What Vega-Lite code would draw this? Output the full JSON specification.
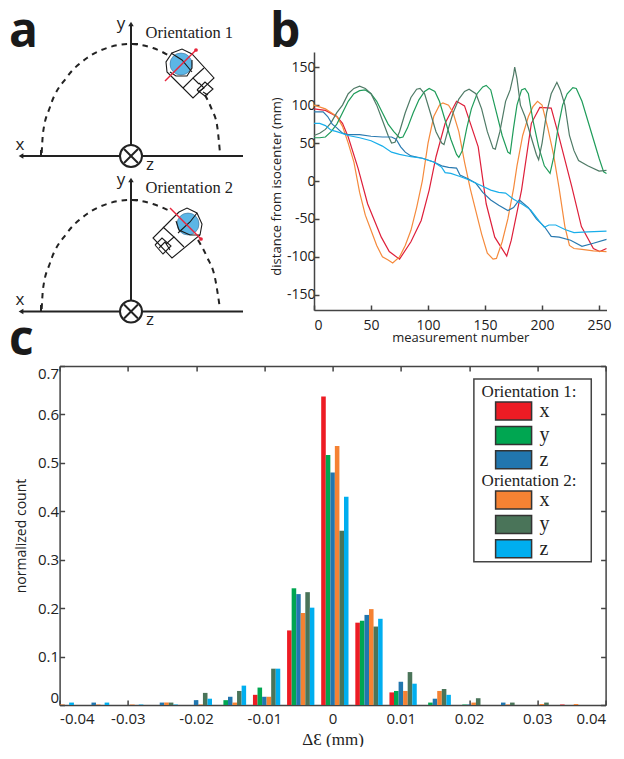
{
"$schema":"https://vega.github.io/schema/vega-lite/v6.json",
"padding":0,
"background":"white",
"spacing":-27,
"config":{"view":{"stroke":null},"axis":{"grid":false,"labelFont":"Open Sans","titleFont":"Open Sans","labelFontSize":14,"titleFontSize":13.5,"titleFontWeight":"normal","labelColor":"#222","titleColor":"#222","domainColor":"#444","tickColor":"#444","domainWidth":1.5,"tickWidth":1.5}},
"datasets":{
"hist":[
{"lo":-0.0386,"hi":-0.0379,"o":"2","a":"z","v":0.005,"p":6},{"lo":-0.04,"hi":-0.0393,"o":"2","a":"x","v":0.001,"p":4},
{"lo":-0.03533,"hi":-0.03467,"o":"1","a":"z","v":0.005,"p":3},{"lo":-0.0334,"hi":-0.03273,"o":"2","a":"z","v":0.005,"p":6},{"lo":-0.0347,"hi":-0.034,"o":"2","a":"x","v":0.001,"p":4},
{"lo":-0.0297,"hi":-0.029,"o":"2","a":"x","v":0.001,"p":4},{"lo":-0.0284,"hi":-0.02773,"o":"2","a":"z","v":0.001,"p":6},
{"lo":-0.02533,"hi":-0.02467,"o":"1","a":"z","v":0.005,"p":3},{"lo":-0.02467,"hi":-0.024,"o":"2","a":"x","v":0.005,"p":4},{"lo":-0.024,"hi":-0.02333,"o":"2","a":"y","v":0.005,"p":5},{"lo":-0.02333,"hi":-0.02267,"o":"2","a":"z","v":0.001,"p":6},
{"lo":-0.02033,"hi":-0.01967,"o":"1","a":"z","v":0.01,"p":3},{"lo":-0.01967,"hi":-0.019,"o":"2","a":"x","v":0.001,"p":4},{"lo":-0.019,"hi":-0.01833,"o":"2","a":"y","v":0.025,"p":5},{"lo":-0.01833,"hi":-0.01767,"o":"2","a":"z","v":0.013,"p":6},
{"lo":-0.016,"hi":-0.01533,"o":"1","a":"y","v":0.01,"p":2},{"lo":-0.01533,"hi":-0.01467,"o":"1","a":"z","v":0.017,"p":3},{"lo":-0.01467,"hi":-0.014,"o":"2","a":"x","v":0.005,"p":4},{"lo":-0.014,"hi":-0.01333,"o":"2","a":"y","v":0.029,"p":5},{"lo":-0.01333,"hi":-0.01267,"o":"2","a":"z","v":0.04,"p":6},
{"lo":-0.01167,"hi":-0.011,"o":"1","a":"x","v":0.021,"p":1},{"lo":-0.011,"hi":-0.01033,"o":"1","a":"y","v":0.036,"p":2},{"lo":-0.01033,"hi":-0.00967,"o":"1","a":"z","v":0.017,"p":3},{"lo":-0.00967,"hi":-0.009,"o":"2","a":"x","v":0.017,"p":4},{"lo":-0.009,"hi":-0.00833,"o":"2","a":"y","v":0.075,"p":5},{"lo":-0.00833,"hi":-0.00767,"o":"2","a":"z","v":0.075,"p":6},
{"lo":-0.00667,"hi":-0.006,"o":"1","a":"x","v":0.154,"p":1},{"lo":-0.006,"hi":-0.00533,"o":"1","a":"y","v":0.241,"p":2},{"lo":-0.00533,"hi":-0.00467,"o":"1","a":"z","v":0.229,"p":3},{"lo":-0.00467,"hi":-0.004,"o":"2","a":"x","v":0.19,"p":4},{"lo":-0.004,"hi":-0.00333,"o":"2","a":"y","v":0.233,"p":5},{"lo":-0.00333,"hi":-0.00267,"o":"2","a":"z","v":0.201,"p":6},
{"lo":-0.00167,"hi":-0.001,"o":"1","a":"x","v":0.637,"p":1},{"lo":-0.001,"hi":-0.00033,"o":"1","a":"y","v":0.516,"p":2},{"lo":-0.00033,"hi":0.00033,"o":"1","a":"z","v":0.48,"p":3},{"lo":0.00033,"hi":0.001,"o":"2","a":"x","v":0.535,"p":4},{"lo":0.001,"hi":0.00167,"o":"2","a":"y","v":0.36,"p":5},{"lo":0.00167,"hi":0.00233,"o":"2","a":"z","v":0.43,"p":6},
{"lo":0.00333,"hi":0.004,"o":"1","a":"x","v":0.17,"p":1},{"lo":0.004,"hi":0.00467,"o":"1","a":"y","v":0.174,"p":2},{"lo":0.00467,"hi":0.00533,"o":"1","a":"z","v":0.186,"p":3},{"lo":0.00533,"hi":0.006,"o":"2","a":"x","v":0.198,"p":4},{"lo":0.006,"hi":0.00667,"o":"2","a":"y","v":0.162,"p":5},{"lo":0.00667,"hi":0.00733,"o":"2","a":"z","v":0.178,"p":6},
{"lo":0.00833,"hi":0.009,"o":"1","a":"x","v":0.026,"p":1},{"lo":0.009,"hi":0.00967,"o":"1","a":"y","v":0.029,"p":2},{"lo":0.00967,"hi":0.01033,"o":"1","a":"z","v":0.048,"p":3},{"lo":0.01033,"hi":0.011,"o":"2","a":"x","v":0.029,"p":4},{"lo":0.011,"hi":0.01167,"o":"2","a":"y","v":0.068,"p":5},{"lo":0.01167,"hi":0.01233,"o":"2","a":"z","v":0.044,"p":6},
{"lo":0.014,"hi":0.01467,"o":"1","a":"y","v":0.005,"p":2},{"lo":0.01467,"hi":0.01533,"o":"1","a":"z","v":0.013,"p":3},{"lo":0.01533,"hi":0.016,"o":"2","a":"x","v":0.029,"p":4},{"lo":0.016,"hi":0.01667,"o":"2","a":"y","v":0.033,"p":5},{"lo":0.01667,"hi":0.01733,"o":"2","a":"z","v":0.021,"p":6},
{"lo":0.019,"hi":0.01967,"o":"1","a":"y","v":0.001,"p":2},{"lo":0.01967,"hi":0.02033,"o":"1","a":"z","v":0.001,"p":3},{"lo":0.02033,"hi":0.021,"o":"2","a":"x","v":0.005,"p":4},{"lo":0.021,"hi":0.02167,"o":"2","a":"y","v":0.014,"p":5},
{"lo":0.02467,"hi":0.02533,"o":"1","a":"z","v":0.005,"p":3},{"lo":0.02533,"hi":0.026,"o":"2","a":"x","v":0.001,"p":4},{"lo":0.026,"hi":0.02667,"o":"2","a":"y","v":0.005,"p":5},
{"lo":0.03033,"hi":0.031,"o":"2","a":"x","v":0.002,"p":4},{"lo":0.031,"hi":0.03167,"o":"2","a":"y","v":0.005,"p":5},
{"lo":0.03333,"hi":0.034,"o":"1","a":"x","v":0.001,"p":1},{"lo":0.03533,"hi":0.036,"o":"2","a":"x","v":0.002,"p":4}
],
"traces":[
{"s":"1x","n":0,"d":95},{"s":"1x","n":10,"d":93},{"s":"1x","n":20,"d":85},{"s":"1x","n":25,"d":76},{"s":"1x","n":30,"d":58},{"s":"1x","n":38.6,"d":17},{"s":"1x","n":47,"d":-30},{"s":"1x","n":59,"d":-74},{"s":"1x","n":66,"d":-93},{"s":"1x","n":75,"d":-103},{"s":"1x","n":85,"d":-80},{"s":"1x","n":94,"d":-52},{"s":"1x","n":101,"d":-12},{"s":"1x","n":107,"d":32},{"s":"1x","n":115,"d":76},{"s":"1x","n":125,"d":105},{"s":"1x","n":132,"d":99},{"s":"1x","n":144,"d":45},{"s":"1x","n":151,"d":-30},{"s":"1x","n":158.5,"d":-74},{"s":"1x","n":169,"d":-99},{"s":"1x","n":173,"d":-78},{"s":"1x","n":182,"d":-12},{"s":"1x","n":190.6,"d":76},{"s":"1x","n":198,"d":97},{"s":"1x","n":208,"d":96},{"s":"1x","n":214,"d":63},{"s":"1x","n":226,"d":-7},{"s":"1x","n":234.5,"d":-60},{"s":"1x","n":245,"d":-89},{"s":"1x","n":250.6,"d":-93},{"s":"1x","n":256.5,"d":-89},
{"s":"2x","n":0,"d":100},{"s":"2x","n":10,"d":95},{"s":"2x","n":20,"d":85},{"s":"2x","n":25,"d":72},{"s":"2x","n":30,"d":50},{"s":"2x","n":35,"d":25},{"s":"2x","n":40,"d":-15},{"s":"2x","n":45,"d":-45},{"s":"2x","n":50,"d":-65},{"s":"2x","n":55,"d":-85},{"s":"2x","n":60,"d":-100},{"s":"2x","n":65,"d":-104},{"s":"2x","n":69,"d":-108},{"s":"2x","n":75,"d":-100},{"s":"2x","n":80,"d":-85},{"s":"2x","n":85,"d":-65},{"s":"2x","n":90,"d":-35},{"s":"2x","n":95,"d":0},{"s":"2x","n":100,"d":50},{"s":"2x","n":105,"d":85},{"s":"2x","n":110,"d":100},{"s":"2x","n":113,"d":103},{"s":"2x","n":118,"d":100},{"s":"2x","n":122,"d":90},{"s":"2x","n":127,"d":65},{"s":"2x","n":132,"d":25},{"s":"2x","n":137,"d":-10},{"s":"2x","n":142,"d":-40},{"s":"2x","n":147,"d":-70},{"s":"2x","n":152,"d":-95},{"s":"2x","n":157,"d":-103},{"s":"2x","n":160,"d":-102},{"s":"2x","n":165,"d":-80},{"s":"2x","n":170,"d":-50},{"s":"2x","n":175,"d":-10},{"s":"2x","n":178,"d":20},{"s":"2x","n":183,"d":60},{"s":"2x","n":188,"d":85},{"s":"2x","n":192,"d":98},{"s":"2x","n":196,"d":105},{"s":"2x","n":200,"d":100},{"s":"2x","n":205,"d":70},{"s":"2x","n":210,"d":35},{"s":"2x","n":215,"d":-10},{"s":"2x","n":220,"d":-60},{"s":"2x","n":224,"d":-85},{"s":"2x","n":228,"d":-89},{"s":"2x","n":235,"d":-90},{"s":"2x","n":245,"d":-92},{"s":"2x","n":256.5,"d":-93},
{"s":"1y","n":0,"d":57},{"s":"1y","n":5,"d":57},{"s":"1y","n":10,"d":58},{"s":"1y","n":15,"d":65},{"s":"1y","n":20,"d":75},{"s":"1y","n":25,"d":90},{"s":"1y","n":30,"d":105},{"s":"1y","n":35,"d":115},{"s":"1y","n":40,"d":119},{"s":"1y","n":45,"d":120},{"s":"1y","n":50,"d":115},{"s":"1y","n":55,"d":105},{"s":"1y","n":60,"d":90},{"s":"1y","n":65,"d":75},{"s":"1y","n":70,"d":65},{"s":"1y","n":75,"d":57},{"s":"1y","n":78,"d":58},{"s":"1y","n":82,"d":70},{"s":"1y","n":87,"d":90},{"s":"1y","n":92,"d":107},{"s":"1y","n":97,"d":118},{"s":"1y","n":101,"d":122},{"s":"1y","n":106,"d":118},{"s":"1y","n":110,"d":105},{"s":"1y","n":115,"d":80},{"s":"1y","n":120,"d":55},{"s":"1y","n":125,"d":35},{"s":"1y","n":127,"d":31},{"s":"1y","n":130,"d":40},{"s":"1y","n":134,"d":70},{"s":"1y","n":138,"d":95},{"s":"1y","n":143,"d":115},{"s":"1y","n":148,"d":124},{"s":"1y","n":151,"d":126},{"s":"1y","n":155,"d":120},{"s":"1y","n":160,"d":90},{"s":"1y","n":165,"d":60},{"s":"1y","n":170,"d":38},{"s":"1y","n":172,"d":36},{"s":"1y","n":175,"d":70},{"s":"1y","n":178,"d":100},{"s":"1y","n":182,"d":120},{"s":"1y","n":185,"d":122},{"s":"1y","n":188,"d":115},{"s":"1y","n":192,"d":80},{"s":"1y","n":197,"d":45},{"s":"1y","n":202,"d":20},{"s":"1y","n":207,"d":10},{"s":"1y","n":210,"d":30},{"s":"1y","n":214,"d":70},{"s":"1y","n":218,"d":100},{"s":"1y","n":222,"d":115},{"s":"1y","n":227,"d":123},{"s":"1y","n":230,"d":122},{"s":"1y","n":235,"d":105},{"s":"1y","n":240,"d":80},{"s":"1y","n":245,"d":55},{"s":"1y","n":250,"d":30},{"s":"1y","n":254,"d":12},{"s":"1y","n":256.5,"d":10},
{"s":"2y","n":0,"d":60},{"s":"2y","n":5,"d":63},{"s":"2y","n":10,"d":68},{"s":"2y","n":15,"d":77},{"s":"2y","n":20,"d":90},{"s":"2y","n":25,"d":100},{"s":"2y","n":30,"d":115},{"s":"2y","n":35,"d":122},{"s":"2y","n":40,"d":125},{"s":"2y","n":45,"d":122},{"s":"2y","n":50,"d":115},{"s":"2y","n":55,"d":100},{"s":"2y","n":60,"d":80},{"s":"2y","n":65,"d":60},{"s":"2y","n":68,"d":50},{"s":"2y","n":71,"d":51},{"s":"2y","n":75,"d":65},{"s":"2y","n":80,"d":90},{"s":"2y","n":85,"d":110},{"s":"2y","n":90,"d":121},{"s":"2y","n":93,"d":122},{"s":"2y","n":97,"d":115},{"s":"2y","n":102,"d":90},{"s":"2y","n":107,"d":65},{"s":"2y","n":112,"d":50},{"s":"2y","n":114,"d":48},{"s":"2y","n":118,"d":70},{"s":"2y","n":122,"d":90},{"s":"2y","n":127,"d":108},{"s":"2y","n":132,"d":118},{"s":"2y","n":136,"d":121},{"s":"2y","n":142,"d":115},{"s":"2y","n":147,"d":95},{"s":"2y","n":152,"d":65},{"s":"2y","n":157,"d":43},{"s":"2y","n":159,"d":42},{"s":"2y","n":163,"d":65},{"s":"2y","n":168,"d":105},{"s":"2y","n":172,"d":120},{"s":"2y","n":175,"d":140},{"s":"2y","n":176,"d":150},{"s":"2y","n":178,"d":135},{"s":"2y","n":181,"d":100},{"s":"2y","n":185,"d":85},{"s":"2y","n":190,"d":60},{"s":"2y","n":195,"d":35},{"s":"2y","n":197,"d":28},{"s":"2y","n":200,"d":50},{"s":"2y","n":204,"d":90},{"s":"2y","n":208,"d":115},{"s":"2y","n":213,"d":130},{"s":"2y","n":216,"d":120},{"s":"2y","n":220,"d":100},{"s":"2y","n":224,"d":60},{"s":"2y","n":228,"d":40},{"s":"2y","n":232,"d":27},{"s":"2y","n":240,"d":20},{"s":"2y","n":250,"d":13},{"s":"2y","n":256.5,"d":14},
{"s":"1z","n":0,"d":91},{"s":"1z","n":8,"d":91},{"s":"1z","n":12,"d":85},{"s":"1z","n":16,"d":75},{"s":"1z","n":20,"d":70},{"s":"1z","n":25,"d":63},{"s":"1z","n":30,"d":61},{"s":"1z","n":40,"d":61},{"s":"1z","n":50,"d":59},{"s":"1z","n":60,"d":58},{"s":"1z","n":68,"d":58},{"s":"1z","n":72,"d":55},{"s":"1z","n":76,"d":45},{"s":"1z","n":80,"d":38},{"s":"1z","n":85,"d":33},{"s":"1z","n":95,"d":30},{"s":"1z","n":105,"d":25},{"s":"1z","n":112,"d":20},{"s":"1z","n":118,"d":18},{"s":"1z","n":125,"d":17},{"s":"1z","n":128,"d":8},{"s":"1z","n":135,"d":3},{"s":"1z","n":142,"d":-3},{"s":"1z","n":148,"d":-15},{"s":"1z","n":155,"d":-25},{"s":"1z","n":162,"d":-32},{"s":"1z","n":170,"d":-39},{"s":"1z","n":175,"d":-35},{"s":"1z","n":180,"d":-25},{"s":"1z","n":188,"d":-35},{"s":"1z","n":195,"d":-50},{"s":"1z","n":202,"d":-60},{"s":"1z","n":208,"d":-73},{"s":"1z","n":215,"d":-74},{"s":"1z","n":225,"d":-78},{"s":"1z","n":235,"d":-86},{"s":"1z","n":245,"d":-82},{"s":"1z","n":256.5,"d":-77},
{"s":"2z","n":0,"d":76},{"s":"2z","n":5,"d":76},{"s":"2z","n":10,"d":73},{"s":"2z","n":15,"d":67},{"s":"2z","n":20,"d":65},{"s":"2z","n":30,"d":60},{"s":"2z","n":40,"d":57},{"s":"2z","n":50,"d":53},{"s":"2z","n":60,"d":46},{"s":"2z","n":68,"d":38},{"s":"2z","n":75,"d":35},{"s":"2z","n":85,"d":32},{"s":"2z","n":95,"d":30},{"s":"2z","n":105,"d":25},{"s":"2z","n":112,"d":18},{"s":"2z","n":115,"d":11},{"s":"2z","n":120,"d":10},{"s":"2z","n":128,"d":6},{"s":"2z","n":135,"d":2},{"s":"2z","n":145,"d":-5},{"s":"2z","n":155,"d":-12},{"s":"2z","n":162,"d":-15},{"s":"2z","n":168,"d":-16},{"s":"2z","n":175,"d":-24},{"s":"2z","n":182,"d":-30},{"s":"2z","n":190,"d":-38},{"s":"2z","n":197,"d":-52},{"s":"2z","n":202,"d":-61},{"s":"2z","n":206,"d":-58},{"s":"2z","n":212,"d":-58},{"s":"2z","n":220,"d":-64},{"s":"2z","n":228,"d":-68},{"s":"2z","n":240,"d":-67},{"s":"2z","n":256.5,"d":-66}
],
"axes":[
{"g":"x1","x":21,"y":156},{"g":"x1","x":243,"y":156},{"g":"y1","x":131,"y":156},{"g":"y1","x":131,"y":25},{"g":"t1","x":131,"y":44},{"g":"t1","x":138,"y":44},{"g":"t1b","x":41,"y":156},{"g":"t1b","x":41,"y":150},
{"g":"x2","x":21,"y":311.5},{"g":"x2","x":243,"y":311.5},{"g":"y2","x":131,"y":311.5},{"g":"y2","x":131,"y":181},{"g":"t2","x":131,"y":200},{"g":"t2","x":138,"y":200},{"g":"t2b","x":41,"y":311.5},{"g":"t2b","x":41,"y":305}
],
"arcs":[
{"g":"a1","x":41.7,"y":153},{"g":"a1","x":43,"y":133},{"g":"a1","x":50,"y":107},{"g":"a1","x":67,"y":77},{"g":"a1","x":87,"y":58},{"g":"a1","x":110,"y":47},{"g":"a1","x":130,"y":44},{"g":"a1","x":153,"y":48},{"g":"a1","x":170,"y":56},
{"g":"a1r","x":205,"y":95},{"g":"a1r","x":212,"y":110},{"g":"a1r","x":217,"y":125},{"g":"a1r","x":220,"y":153},
{"g":"a2","x":41.7,"y":309},{"g":"a2","x":43,"y":289},{"g":"a2","x":50,"y":263},{"g":"a2","x":67,"y":233},{"g":"a2","x":87,"y":214},{"g":"a2","x":110,"y":203},{"g":"a2","x":130,"y":200},{"g":"a2","x":153,"y":204},{"g":"a2","x":170,"y":211},
{"g":"a2r","x":198,"y":240},{"g":"a2r","x":207,"y":257},{"g":"a2r","x":215,"y":278},{"g":"a2r","x":220,"y":309}
],
"coils":[
{"g":"c1a","x":175,"y":80},{"g":"c1a","x":167,"y":72},{"g":"c1a","x":166,"y":62},{"g":"c1a","x":172,"y":53},{"g":"c1a","x":182,"y":49},{"g":"c1a","x":192,"y":54},{"g":"c1a","x":214,"y":78},{"g":"c1a","x":193,"y":98},{"g":"c1a","x":175,"y":80},
{"g":"c1b","x":171,"y":53},{"g":"c1b","x":182,"y":60},{"g":"c1b","x":192,"y":72},
{"g":"c1c","x":170,"y":72},{"g":"c1c","x":176,"y":76},{"g":"c1c","x":187,"y":76},{"g":"c1c","x":192,"y":68},{"g":"c1c","x":192,"y":60},
{"g":"c1d","x":183,"y":88},{"g":"c1d","x":193,"y":78},{"g":"c1d","x":199,"y":84},
{"g":"c1e","x":193,"y":78},{"g":"c1e","x":204,"y":68},
{"g":"c1f","x":197,"y":90},{"g":"c1f","x":205,"y":82},{"g":"c1f","x":213,"y":89},{"g":"c1f","x":205,"y":96},{"g":"c1f","x":197,"y":90},
{"g":"c1g","x":199,"y":83},{"g":"c1g","x":204,"y":88},{"g":"c1g","x":198,"y":92},
{"g":"c1h","x":203,"y":92},{"g":"c1h","x":208,"y":95},
{"g":"c2a","x":179,"y":212},{"g":"c2a","x":187,"y":208},{"g":"c2a","x":197,"y":213},{"g":"c2a","x":202,"y":224},{"g":"c2a","x":200,"y":235},{"g":"c2a","x":172,"y":258},{"g":"c2a","x":153,"y":238},{"g":"c2a","x":179,"y":212},
{"g":"c2b","x":197,"y":213},{"g":"c2b","x":190,"y":222},{"g":"c2b","x":178,"y":233},
{"g":"c2c","x":176,"y":221},{"g":"c2c","x":179,"y":230},{"g":"c2c","x":190,"y":235},{"g":"c2c","x":200,"y":235},
{"g":"c2d","x":163,"y":227},{"g":"c2d","x":174,"y":237},{"g":"c2d","x":166,"y":244},
{"g":"c2e","x":174,"y":237},{"g":"c2e","x":184,"y":247},
{"g":"c2f","x":155,"y":245},{"g":"c2f","x":162,"y":238},{"g":"c2f","x":171,"y":246},{"g":"c2f","x":163,"y":254},{"g":"c2f","x":155,"y":245},
{"g":"c2g","x":159,"y":248},{"g":"c2g","x":165,"y":242},{"g":"c2g","x":170,"y":250}
],
"red":[{"g":"r1","x":165,"y":81},{"g":"r1","x":196,"y":50},{"g":"r2","x":170,"y":208},{"g":"r2","x":201,"y":239}]
},
"vconcat":[
{"hconcat":[
{"width":265.3,"height":340,
 "encoding":{"x":{"field":"x","type":"quantitative","axis":null,"scale":{"domain":[0,265.3],"nice":false,"zero":false}},"y":{"field":"y","type":"quantitative","axis":null,"scale":{"domain":[340,0],"nice":false,"zero":false}}},
 "layer":[
 {"data":{"name":"arcs"},"mark":{"type":"line","stroke":"#222","strokeWidth":2,"strokeDash":[5.5,5],"interpolate":"monotone"},"encoding":{"detail":{"field":"g"}}},
 {"data":{"name":"axes"},"mark":{"type":"line","stroke":"#222","strokeWidth":2},"encoding":{"detail":{"field":"g"}}},
 {"data":{"values":[{"x":21,"y":156,"k":"triangle-left"},{"x":21,"y":311.5,"k":"triangle-left"},{"x":131,"y":24,"k":"triangle-up"},{"x":131,"y":180,"k":"triangle-up"}]},"mark":{"type":"point","filled":true,"color":"#222","size":30,"opacity":1},"encoding":{"shape":{"field":"k","type":"nominal","scale":null,"legend":null}}},
 {"data":{"values":[{"x":131,"y":156},{"x":131,"y":311.5}]},"mark":{"type":"point","shape":"circle","size":484,"fill":"white","stroke":"#222","strokeWidth":2,"opacity":1}},
 {"data":{"values":[{"g":"k1","x":124,"y":149},{"g":"k1","x":138,"y":163},{"g":"k2","x":138,"y":149},{"g":"k2","x":124,"y":163},{"g":"k3","x":124,"y":304.5},{"g":"k3","x":138,"y":318.5},{"g":"k4","x":138,"y":304.5},{"g":"k4","x":124,"y":318.5}]},"mark":{"type":"line","stroke":"#222","strokeWidth":2},"encoding":{"detail":{"field":"g"}}},
 {"data":{"values":[{"x":181,"y":64},{"x":188,"y":224}]},"mark":{"type":"point","shape":"circle","size":484,"fill":"#5cb6e6","stroke":"#2a5f8a","strokeWidth":0.5,"opacity":1}},
 {"data":{"name":"coils"},"transform":[{"window":[{"op":"row_number","as":"i"}]}],"mark":{"type":"line","stroke":"#1a1a1a","strokeWidth":1.1},"encoding":{"detail":{"field":"g"},"order":{"field":"i","type":"quantitative"}}},
 {"data":{"name":"red"},"mark":{"type":"line","stroke":"#e8253c","strokeWidth":1.4},"encoding":{"detail":{"field":"g"}}},
 {"data":{"values":[{"x":196,"y":50},{"x":201,"y":239}]},"mark":{"type":"point","shape":"circle","filled":true,"color":"#e8253c","size":14,"opacity":1}},
 {"data":{"values":[{"x":20,"y":145,"t":"x"},{"x":121,"y":24,"t":"y"},{"x":150,"y":165,"t":"z"},{"x":20,"y":300,"t":"x"},{"x":121,"y":180,"t":"y"},{"x":150,"y":320,"t":"z"}]},"mark":{"type":"text","font":"Open Sans","fontSize":17,"color":"#222","align":"center","baseline":"middle"},"encoding":{"text":{"field":"t"}}},
 {"data":{"values":[{"x":145.5,"y":33,"t":"Orientation 1"},{"x":145.5,"y":188,"t":"Orientation 2"}]},"mark":{"type":"text","font":"Liberation Serif","fontSize":16.5,"color":"#222","align":"left","baseline":"middle"},"encoding":{"text":{"field":"t"}}},
 {"data":{"values":[{"x":9,"y":47,"t":"a"}]},"mark":{"type":"text","font":"Open Sans","fontWeight":"bold","fontSize":48,"color":"#1a1a1a","align":"left","baseline":"alphabetic"},"encoding":{"text":{"field":"t"}}}
 ]},
{"vconcat":[
 {"width":292.5,"height":52,"data":{"values":[{"x":-44,"y":47,"t":"b"}]},"mark":{"type":"text","font":"Open Sans","fontWeight":"bold","fontSize":48,"color":"#1a1a1a","align":"left","baseline":"alphabetic"},
  "encoding":{"x":{"field":"x","type":"quantitative","axis":null,"scale":{"domain":[0,292.5],"nice":false,"zero":false}},"y":{"field":"y","type":"quantitative","axis":null,"scale":{"domain":[52,0],"nice":false,"zero":false}},"text":{"field":"t"}}},
 {"width":292.5,"height":258,"data":{"name":"traces"},"mark":{"type":"line","strokeWidth":1.2},
  "encoding":{
   "x":{"field":"n","type":"quantitative","title":"measurement number","scale":{"domain":[0,256.5],"nice":false},"axis":{"values":[0,50,100,150,200,250],"tickSize":-5,"labelPadding":13,"titlePadding":-1,"format":"d","titleFontSize":13}},
   "y":{"field":"d","type":"quantitative","title":"distance from isocenter (mm)","scale":{"domain":[-170,170],"nice":false},"axis":{"values":[-150,-100,-50,0,50,100,150],"tickSize":-5,"labelPadding":4,"titlePadding":3,"labelExpr":"replace(datum.label,'−','-')","titleFontSize":13,"titleY":134}},
   "color":{"field":"s","type":"nominal","legend":null,"scale":{"domain":["1x","1y","1z","2x","2y","2z"],"range":["#de1f3a","#1f9c5a","#2a7ab0","#f58a3c","#4f7a66","#19aeea"]}},
   "detail":{"field":"s"}}}
 ],"spacing":0,"bounds":"flush"}
],"spacing":4},
{"hconcat":[
 {"width":30,"height":339,"data":{"values":[{"x":9,"y":-11,"t":"c"}]},"mark":{"type":"text","font":"Open Sans","fontWeight":"bold","fontSize":48,"color":"#1a1a1a","align":"left","baseline":"alphabetic"},
  "encoding":{"x":{"field":"x","type":"quantitative","axis":null,"scale":{"domain":[0,30],"nice":false,"zero":false}},"y":{"field":"y","type":"quantitative","axis":null,"scale":{"domain":[0,339],"reverse":true,"nice":false,"zero":false}},"text":{"field":"t"}}},
 {"width":546,"height":339,
  "layer":[
  {"data":{"name":"hist"},"transform":[{"filter":"datum.o==='1'"}],"mark":{"type":"rect"},
   "encoding":{
    "x":{"field":"lo","type":"quantitative","title":"ΔƐ (mm)","scale":{"domain":[-0.04,0.04],"nice":false,"zero":false},"axis":{"values":[-0.04,-0.03,-0.02,-0.01,0,0.01,0.02,0.03,0.04],"format":".2~f","tickSize":-5,"labelPadding":11,"labelFontSize":15,"titlePadding":5,"titleFont":"Liberation Serif","titleFontSize":17,"labelExpr":"replace(datum.label,'−','-')"}},
    "x2":{"field":"hi"},
    "y":{"field":"v","type":"quantitative","title":"normalized count","scale":{"domain":[0,0.7],"nice":false},"axis":{"values":[0,0.1,0.2,0.3,0.4,0.5,0.6,0.7],"format":".1~f","tickSize":-5,"labelPadding":6,"labelFontSize":15,"titleFontSize":14,"titlePadding":9,"labelFlush":true},"stack":null},
    "y2":{"datum":0},
    "color":{"field":"a","type":"nominal","scale":{"domain":["x","y","z"],"range":["#ed1c24","#00a651","#2176ae"]},
     "legend":{"title":"Orientation 1:","orient":"none","legendX":422,"legendY":18,"titleFont":"Liberation Serif","titleFontSize":17,"titleFontWeight":"normal","titleColor":"#222","titlePadding":0,"labelFont":"Liberation Serif","labelFontSize":20,"labelColor":"#222","symbolType":"M-2,-1H2V1H-2Z","symbolSize":324,"symbolStrokeColor":"#333","symbolStrokeWidth":1.5,"symbolOffset":22,"labelOffset":16,"rowPadding":0.4}}}},
  {"data":{"name":"hist"},"transform":[{"filter":"datum.o==='2'"}],"mark":{"type":"rect"},
   "encoding":{
    "x":{"field":"lo","type":"quantitative","axis":null},
    "x2":{"field":"hi"},
    "y":{"field":"v","type":"quantitative","axis":null,"stack":null},
    "y2":{"datum":0},
    "color":{"field":"a","type":"nominal","scale":{"domain":["x","y","z"],"range":["#f58233","#4a7459","#00aeef"]},
     "legend":{"title":"Orientation 2:","orient":"none","legendX":422,"legendY":107,"titleFont":"Liberation Serif","titleFontSize":17,"titleFontWeight":"normal","titleColor":"#222","titlePadding":0,"labelFont":"Liberation Serif","labelFontSize":20,"labelColor":"#222","symbolType":"M-2,-1H2V1H-2Z","symbolSize":324,"symbolStrokeColor":"#333","symbolStrokeWidth":1.5,"symbolOffset":22,"labelOffset":16,"rowPadding":0.4}}}},
  {"data":{"values":[{"x1":0.0207,"x2":0.0379,"y1":0.673,"y2":0.296}]},"mark":{"type":"rect","fill":"white","stroke":"#444","strokeWidth":1.5},
   "encoding":{
    "x":{"field":"x1","type":"quantitative","axis":{"orient":"top","values":[-0.04,-0.03,-0.02,-0.01,0,0.01,0.02,0.03,0.04],"labels":false,"title":null,"tickSize":-5}},
    "x2":{"field":"x2"},
    "y":{"field":"y1","type":"quantitative","axis":{"orient":"right","values":[0,0.1,0.2,0.3,0.4,0.5,0.6,0.7],"labels":false,"title":null,"tickSize":-5}},
    "y2":{"field":"y2"}}}
  ],
  "resolve":{"axis":{"x":"independent","y":"independent"},"scale":{"color":"independent"}}}
],"spacing":29.6,"bounds":"flush"}
]
}
